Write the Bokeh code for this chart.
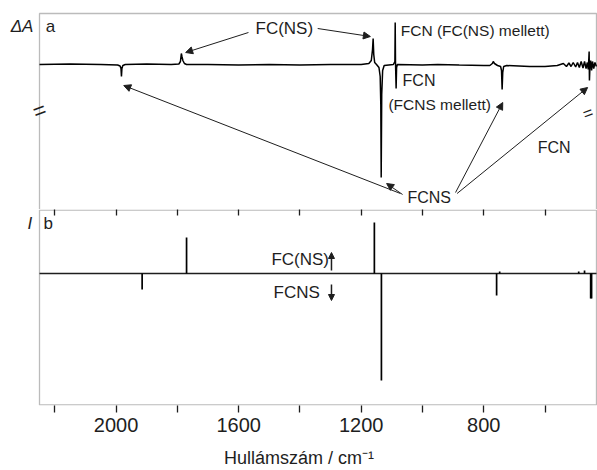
from bokeh.plotting import figure
from bokeh.models import Range1d, Label, Arrow, NormalHead, LinearAxis, FixedTicker, BoxAnnotation
from bokeh.layouts import column
from bokeh.embed import file_html
from bokeh.resources import INLINE

FONT = "Liberation Sans"
INK = "#1e1e1e"

# ---- Panel a: measured difference spectrum (wavenumber / cm-1, ΔA arb. units)
spec_wn = [2250, 2150, 2050, 1995, 1987, 1984, 1982.5, 1981, 1978, 1970,
           1900, 1820, 1795, 1790, 1787, 1785, 1782, 1777, 1770, 1700,
           1600, 1500, 1400, 1300, 1200, 1175, 1167, 1163, 1161, 1159,
           1156, 1150, 1142, 1138, 1136, 1134.7, 1133, 1130, 1125, 1110,
           1095, 1090, 1089, 1088, 1086, 1084.5, 1082, 1000, 950, 880,
           800, 780, 772, 769, 765, 755, 745, 742, 740, 738,
           735, 725, 650, 600, 560, 540, 530, 522, 515, 508,
           500, 494, 488, 482, 476, 471, 466, 462, 459, 457,
           456, 455, 453.5, 451, 448, 445, 441, 437, 432]
spec_dA = [0.0, 0.05, 0.0, -0.05, -0.15, -0.4, -1.2, -0.4, -0.1, 0.0,
           0.05, 0.0, 0.05, 0.3, 1.1, 0.8, 0.4, 0.1, 0.0, 0.0,
           -0.05, 0.0, -0.05, 0.0, 0.0, 0.1, 0.4, 1.5, 2.6, 1.0,
           0.2, 0.0, -0.3, -1.2, -4.0, -11.3, -3.0, -0.6, -0.1, -0.05,
           0.0, 0.3, 4.2, 0.2, -2.4, -0.3, 0.0, -0.05, 0.0, -0.05,
           -0.1, -0.1, 0.1, 0.3, 0.1, -0.1, -0.2, -0.6, -2.5, -0.8,
           -0.2, -0.1, -0.2, -0.2, -0.1, 0.1, -0.2, 0.15, -0.2, 0.2,
           -0.25, 0.2, -0.3, 0.3, -0.35, 0.3, -0.4, 0.2, -0.5, 0.6,
           1.3, -1.6, -0.3, 0.4, -0.6, 0.3, -0.4, 0.2, -0.2]

# ---- Panel b: computed stick spectrum (relative intensity)
stick_wn = [1915, 1770, 1157, 1134, 758, 748, 490, 471, 451, 448]
stick_I = [-16, 36, 51, -107, -22, 2, 2, 3, -25, -25]

tick_major = [2000, 1600, 1200, 800]
tick_minor = [2200, 1800, 1400, 1000, 600]

# axis limits of the plotted wavenumber window, and the visible canvas window
AX_LEFT, AX_RIGHT = 2250, 432
x_range = Range1d(2377.3, 428.7)


def box(p, top, bottom):
    p.add_layout(BoxAnnotation(left=AX_RIGHT, right=AX_LEFT, top=top, bottom=bottom,
                               fill_alpha=0, line_color=INK, line_width=1.3))


def lab(p, x, y, text, size=16, style="normal", align="left", angle=0.0,
        baseline="alphabetic"):
    p.add_layout(Label(x=x, y=y, text=text, text_font=FONT, text_font_size=f"{size}px",
                       text_font_style=style, text_color=INK, text_align=align,
                       text_baseline=baseline, angle=angle))


def arr(p, xs, ys, xe, ye, size=7, width=1.0):
    p.add_layout(Arrow(end=NormalHead(size=size, fill_color=INK, line_color=INK),
                       x_start=xs, y_start=ys, x_end=xe, y_end=ye,
                       line_color=INK, line_width=width))


# ---------------- figure a ----------------
p1 = figure(width=597, height=209, x_range=x_range, y_range=Range1d(-14.5, 6.4),
            x_axis_type=None, y_axis_type=None, output_backend="svg",
            toolbar_location=None, min_border=0)
p1.grid.visible = False
p1.outline_line_color = None
box(p1, 5.1, -30)

p1.line(spec_wn, spec_dA, line_color="black", line_width=1.5)

lab(p1, 2344, 3.8, "ΔA", size=17, style="italic")
lab(p1, 2230, 3.8, "a", size=17)

lab(p1, 1545, 3.6, "FC(NS)", size=17)
lab(p1, 1071, 3.4, "FCN (FC(NS) mellett)", size=15.5)
lab(p1, 1065, -1.6, "FCN", size=16)
lab(p1, 1111, -4.0, "(FCNS mellett)", size=15.5)
lab(p1, 624, -8.3, "FCN", size=16)
lab(p1, 1049, -13.3, "FCNS", size=16)

arr(p1, 1568, 3.2, 1773, 1.2)
arr(p1, 1342, 3.6, 1170, 2.8)
arr(p1, 1072, -12.9, 1975, -2.1)
arr(p1, 1065, -13.0, 1117, -11.9)
arr(p1, 892, -12.8, 738, -3.8)
arr(p1, 887, -12.9, 461, -2.3)

# axis break marks
lab(p1, AX_LEFT, -4.6, "=", size=22, align="center", baseline="middle", angle=0.35)
lab(p1, 460, -4.9, "=", size=17, align="center", baseline="middle", angle=0.35)

# ---------------- figure b ----------------
p2 = figure(width=597, height=261, x_range=x_range, y_range=Range1d(-132, 64),
            x_axis_type=None, y_axis_type=None, output_backend="svg",
            toolbar_location=None, min_border_left=0, min_border_right=0,
            min_border_top=0, min_border_bottom=65)
p2.grid.visible = False
p2.outline_line_color = None
box(p2, 63.4, -131.4)

ticker = FixedTicker(ticks=tick_major, minor_ticks=tick_minor)
xb = LinearAxis(ticker=ticker)
xb.axis_label = "Hullámszám / cm⁻¹"
xb.axis_label_text_font = FONT
xb.axis_label_text_font_size = "18px"
xb.axis_label_text_font_style = "normal"
xb.axis_label_text_color = INK
xb.axis_label_standoff = 13
xb.major_label_text_font = FONT
xb.major_label_text_font_size = "20px"
xb.major_label_text_color = INK
xb.major_label_standoff = 5
xb.axis_line_color = None
xb.major_tick_in = 0
xb.major_tick_out = 7
xb.minor_tick_in = 0
xb.minor_tick_out = 7
xb.major_tick_line_color = INK
xb.minor_tick_line_color = INK
xb.major_tick_line_width = 1.3
xb.minor_tick_line_width = 1.3
p2.add_layout(xb, "below")

# inward ticks along the panel divider (no labels)
xt = LinearAxis(ticker=ticker)
xt.major_label_text_font_size = "0px"
xt.major_label_text_color = None
xt.major_label_standoff = 0
xt.axis_line_color = None
xt.major_tick_in = 6
xt.major_tick_out = 0
xt.minor_tick_in = 6
xt.minor_tick_out = 0
xt.major_tick_line_color = INK
xt.minor_tick_line_color = INK
xt.major_tick_line_width = 1.3
xt.minor_tick_line_width = 1.3
p2.add_layout(xt, "above")

p2.segment(x0=[AX_LEFT], y0=[0], x1=[AX_RIGHT], y1=[0], line_color=INK, line_width=1.4)
p2.segment(x0=stick_wn, y0=[0] * len(stick_wn), x1=stick_wn, y1=stick_I,
           line_color="black", line_width=1.7)

lab(p2, 2289, 50, "I", size=17, style="italic")
lab(p2, 2237, 50, "b", size=17)
lab(p2, 1493, 14, "FC(NS)", size=17)
lab(p2, 1486, -19, "FCNS", size=17)
arr(p2, 1297, 3, 1297, 21, size=6, width=1.5)
arr(p2, 1297, -11, 1297, -27, size=6, width=1.5)

layout = column(p1, p2)
open("out.html", "w").write(file_html(layout, INLINE))
